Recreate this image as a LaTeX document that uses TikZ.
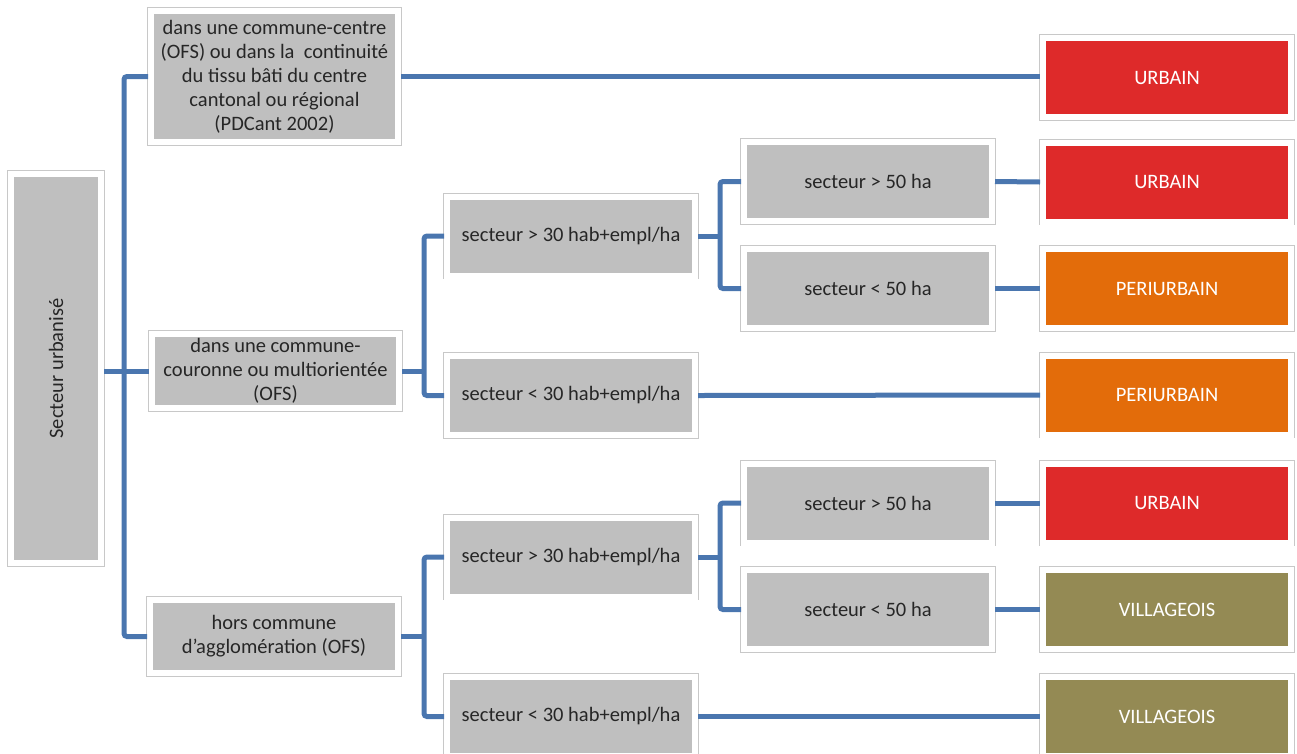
\documentclass[tikz,border=0pt]{standalone}
\usepackage{fontspec}
\setmainfont{Carlito}
\definecolor{boxgray}{RGB}{191,191,191}
\definecolor{framegray}{RGB}{200,200,200}
\definecolor{txtgray}{RGB}{38,38,38}
\definecolor{linkblue}{RGB}{74,118,175}
\definecolor{urbred}{RGB}{222,42,42}
\definecolor{periorange}{RGB}{227,108,10}
\definecolor{villolive}{RGB}{148,138,84}
\begin{document}
\begin{tikzpicture}[x=1pt, y=-1pt]
        \tikzstyle{crit}=[preaction={draw=framegray, line width=7.6pt}, draw=white, line width=6pt, fill=boxgray, rectangle, minimum width=248pt, minimum height=79pt, inner sep=2pt, outer sep=3pt, align=center, text=txtgray, font=\fontsize{20.5}{24}\selectfont];
        \tikzstyle{res}=[crit, text=white];
        \tikzstyle{link}=[draw=linkblue, line width=5pt, rounded corners=3pt];

        \useasboundingbox (0,0) rectangle (1297,753);

        % racine
        \node[crit, minimum width=90pt, minimum height=389pt] (root) at (56,368.5) {\rotatebox{90}{Secteur urbanisé}};

        % niveau 1
        \node[crit, minimum width=247pt, minimum height=131pt] (centre) at (274.5,76.5) {dans une commune-centre\\(OFS) ou dans la\ \ continuité\\du tissu bâti du centre\\cantonal ou régional\\(PDCant 2002)};
        \node[crit, minimum width=247pt, minimum height=74pt] (couronne) at (275.5,371) {dans une commune-\\couronne ou multiorientée\\(OFS)};
        \node[crit, minimum height=73pt] (hors) at (274,636.5) {hors commune\\d\symbol{39}agglomération (OFS)};

        % niveau 2
        \node[crit] (cdens) at (571,236) {secteur > 30 hab+empl/ha};
        \node[crit] (cfaib) at (571,395.5) {secteur < 30 hab+empl/ha};
        \node[crit] (hdens) at (571,557) {secteur > 30 hab+empl/ha};
        \node[crit] (hfaib) at (571,716.5) {secteur < 30 hab+empl/ha};

        % niveau 3
        \node[crit] (cgrand) at (868,181.5) {secteur > 50 ha};
        \node[crit] (cpetit) at (868,288.5) {secteur < 50 ha};
        \node[crit] (hgrand) at (868,503) {secteur > 50 ha};
        \node[crit] (hpetit) at (868,609.5) {secteur < 50 ha};

        % resultats
        \node[res, fill=urbred] (urb1) at (1167,77.5) {URBAIN};
        \node[res, fill=urbred] (urb2) at (1167,182) {URBAIN};
        \node[res, fill=periorange] (peri1) at (1167,288.5) {PERIURBAIN};
        \node[res, fill=periorange] (peri2) at (1167,395) {PERIURBAIN};
        \node[res, fill=urbred] (urb3) at (1167,503) {URBAIN};
        \node[res, fill=villolive] (vill1) at (1167,609.5) {VILLAGEOIS};
        \node[res, fill=villolive] (vill2) at (1167,716.5) {VILLAGEOIS};

        \draw[link] (root.east |- couronne.west) -- (couronne.west);
        \draw[link] (centre.west) -- ++(-24,0) |- (hors.west);
        \draw[link] (centre.east) -- (centre.east -| urb1.west);

        \draw[link] (couronne.east) -- ++(22,0);
        \draw[link] (cdens.west) -- ++(-20,0) |- (cfaib.west);
        \draw[link] (cdens.east) -- ++(22,0);
        \draw[link] (cgrand.west) -- ++(-21,0) |- (cpetit.west);
        \draw[link] (cgrand.east) -- (urb2.west);
        \draw[link] (cpetit.east) -- (peri1.west);
        \draw[link] (cfaib.east) -- (peri2.west);

        \draw[link] (hors.east) -- ++(22,0);
        \draw[link] (hdens.west) -- ++(-20,0) |- (hfaib.west);
        \draw[link] (hdens.east) -- ++(22,0);
        \draw[link] (hgrand.west) -- ++(-21,0) |- (hpetit.west);
        \draw[link] (hgrand.east) -- (urb3.west);
        \draw[link] (hpetit.east) -- (vill1.west);
        \draw[link] (hfaib.east) -- (vill2.west);
    \end{tikzpicture}
\end{document}
